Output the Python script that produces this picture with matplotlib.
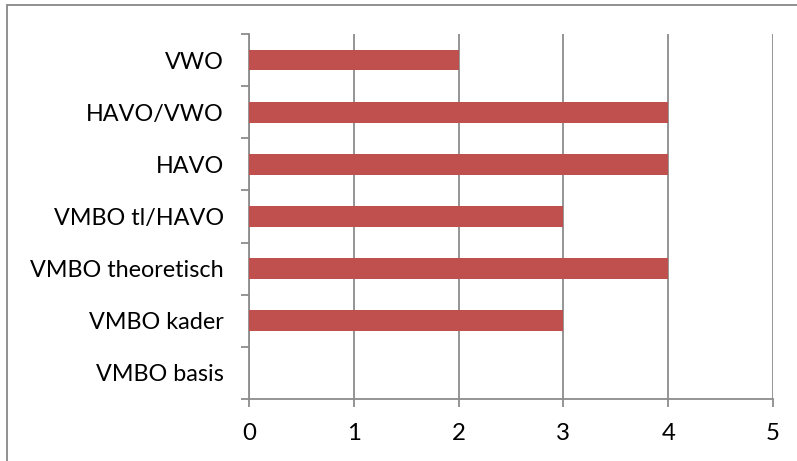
import matplotlib
matplotlib.use("Agg")
import matplotlib.pyplot as plt
from matplotlib.patches import Rectangle
from matplotlib.ticker import FixedLocator

categories = ["VMBO basis", "VMBO kader", "VMBO theoretisch", "VMBO tl/HAVO",
              "HAVO", "HAVO/VWO", "VWO"]
values = [0, 3, 4, 3, 4, 4, 2]
xticks = [0, 1, 2, 3, 4, 5]

plt.rcParams['font.family'] = ['Lato', 'DejaVu Sans']

W, H = 797, 461
fig = plt.figure(figsize=(W / 100, H / 100), dpi=100)
ax = fig.add_axes([249 / W, 1 - 399 / H, (773 - 249) / W, (399 - 34) / H])

grey = '#8c8c8c'
y = list(range(len(categories)))
ax.barh(y, values, height=0.4, color='#C0504D', zorder=3)

ax.set_xlim(0, 5)
ax.set_ylim(-0.5, len(categories) - 0.5)
ax.set_xticks(xticks)
ax.set_xticklabels([str(t) for t in xticks])
ax.set_yticks(y)
ax.set_yticklabels(categories)
ax.yaxis.set_minor_locator(FixedLocator([i - 0.5 for i in range(len(categories) + 1)]))

fs = 16.8
ax.tick_params(axis='y', which='major', length=0, pad=18, labelsize=fs, colors='black')
ax.tick_params(axis='y', which='minor', length=6, width=1.3, color=grey, direction='out')
ax.tick_params(axis='x', which='major', length=6, width=1.3, color=grey, pad=11,
               labelsize=fs + 0.5, labelcolor='black')

ax.grid(axis='x', color=grey, linewidth=1.3, zorder=0)
ax.set_axisbelow(True)
for s in ['top', 'right']:
    ax.spines[s].set_visible(False)
for s in ['left', 'bottom']:
    ax.spines[s].set_color(grey)
    ax.spines[s].set_linewidth(1.3)

fig.patches.append(Rectangle((7.5 / W, -0.1), 1.2, 1 - 5.5 / H + 0.1, transform=fig.transFigure,
                             fill=False, edgecolor='#888888', linewidth=1.3, clip_on=False))

fig.savefig('out.png', dpi=100)
